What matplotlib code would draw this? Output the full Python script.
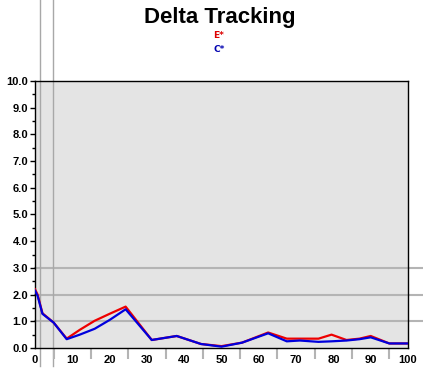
import matplotlib.pyplot as plt
import numpy as np

plt.rcParams['font.family'] = ['Liberation Sans', 'DejaVu Sans']

# data
x = [0, 0.7, 2, 5, 8.5, 12, 16, 20, 24.3, 31.3, 38, 44.5, 50, 55.5,
     62.5, 67.5, 71, 76, 79.5, 83.5, 87, 90, 95, 100]
e_star = [2.2, 2.0, 1.3, 0.95, 0.35, 0.68, 1.02, 1.28, 1.55, 0.3, 0.45, 0.15,
          0.07, 0.2, 0.58, 0.35, 0.35, 0.35, 0.5, 0.3, 0.35, 0.45, 0.17, 0.17]
c_star = [2.15, 1.95, 1.28, 0.95, 0.33, 0.5, 0.72, 1.05, 1.45, 0.3, 0.45, 0.15,
          0.05, 0.2, 0.55, 0.25, 0.28, 0.23, 0.25, 0.28, 0.33, 0.4, 0.17, 0.17]
ref_levels = [3.0, 2.0, 1.0]
markers_x = [1.34, 4.75]

fig = plt.figure(figsize=(4.23, 3.79), dpi=100)
ax = fig.add_axes([35 / 423, 1 - 348 / 379, 373 / 423, 267 / 379])
ax.set_facecolor('#e4e4e4')

for lv in ref_levels:
    ax.axhline(lv, xmin=0, xmax=388 / 373, color='#b4b4b4', lw=1.5,
               clip_on=False, zorder=1)
for mx in markers_x:
    ax.axvline(mx, ymin=-18 / 267, ymax=348 / 267, color='#a8a8a8', lw=1,
               clip_on=False, zorder=1)

ax.plot(x, e_star, color='#ee0000', lw=1.6, zorder=3)
ax.plot(x, c_star, color='#0000dd', lw=1.6, zorder=4)

ax.set_xlim(0, 100)
ax.set_ylim(0, 10)
ax.set_xticks(np.arange(0, 101, 10))
ax.set_xticks(np.arange(5, 100, 10), minor=True)
ax.set_yticks(np.arange(0, 10.1, 1))
ax.set_yticks(np.arange(0.5, 10, 1), minor=True)
ax.set_yticklabels(['%.1f' % v for v in np.arange(0, 10.1, 1)])
ax.tick_params(axis='x', which='major', length=0, pad=5, labelsize=8)
ax.tick_params(axis='x', which='minor', length=8, width=1.5, color='#b4b4b4')
ax.tick_params(axis='y', which='major', length=3.5, width=1, pad=1.5, labelsize=8)
ax.tick_params(axis='y', which='minor', length=2.5, width=1)
for lab in ax.get_xticklabels() + ax.get_yticklabels():
    lab.set_fontweight('bold')

for sp in ax.spines.values():
    sp.set_color('black')
    sp.set_linewidth(1)

fig.text(220 / 423, 1 - 22.5 / 379, 'Delta Tracking', ha='center', va='baseline',
         fontsize=16, fontweight='bold')
fig.text(213 / 423, 1 - 37.8 / 379, 'E*', ha='left', va='baseline',
         fontsize=6.5, fontweight='bold', color='#dd0000',
         family=['DejaVu Sans'])
fig.text(213 / 423, 1 - 52.5 / 379, 'C*', ha='left', va='baseline',
         fontsize=6.5, fontweight='bold', color='#0000b0',
         family=['DejaVu Sans'])

fig.savefig('out.png', dpi=100)
